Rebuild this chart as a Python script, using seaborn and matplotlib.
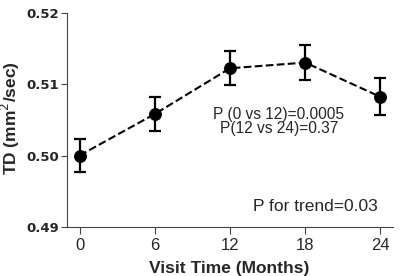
import numpy as np
import pandas as pd
import matplotlib
matplotlib.use("Agg")
import matplotlib.pyplot as plt
import seaborn as sns

# values
months = [0, 6, 12, 18, 24]
td_mean = [0.5000, 0.5058, 0.5122, 0.5130, 0.5082]
td_err = [0.0023, 0.0024, 0.0024, 0.0025, 0.0026]
y_ticks = [0.49, 0.50, 0.51, 0.52]
x_ticks = [0, 6, 12, 18, 24]

sns.set_style("ticks")
plt.rcParams['font.family'] = ['Liberation Sans', 'DejaVu Sans']

df = pd.DataFrame({"month": months, "td": td_mean, "err": td_err})

fig = plt.figure(figsize=(4.0, 2.76), dpi=100)
ax = fig.add_axes([0.1675, 0.1775, 0.815, 0.7772])

# error bars first, then the dashed line with markers on top
ax.errorbar(df["month"], df["td"], yerr=df["err"], fmt="none",
            ecolor="black", elinewidth=1.6, capsize=4.5, capthick=1.6, zorder=2)
sns.lineplot(data=df, x="month", y="td", ax=ax, color="black",
             linestyle="--", linewidth=1.5, marker="o", markersize=8.5,
             markeredgecolor="black", zorder=3)

ax.set_xlim(-1, 25)
ax.set_ylim(0.49, 0.52)
ax.set_xticks(x_ticks)
ax.set_yticks(y_ticks)
ax.set_yticklabels([f"{v:.2f}" for v in y_ticks], fontweight="bold",
                   fontsize=9.5, family="DejaVu Sans")
ax.set_xticklabels([str(v) for v in x_ticks], fontsize=12)
ax.tick_params(axis="y", length=4, width=0.8, color="#444444", pad=1.5)
ax.tick_params(axis="x", length=5, width=0.8, color="#444444", pad=3)
for side in ["left", "bottom"]:
    ax.spines[side].set_linewidth(0.8)
    ax.spines[side].set_color("#444444")
sns.despine(ax=ax)

ax.set_xlabel("Visit Time (Months)", fontweight="bold", fontsize=12.5)
ax.set_ylabel("TD (mm$^2$/sec)", fontweight="bold", fontsize=12.5)
ax.xaxis.set_label_coords(0.497, -0.158)
ax.xaxis.label.set_va("top")
ax.yaxis.set_label_coords(-0.138, 0.51)

ax.text(15.9, 0.5051, "P (0 vs 12)=0.0005", ha="center", va="baseline", fontsize=11.2)
ax.text(15.9, 0.5031, "P(12 vs 24)=0.37", ha="center", va="baseline", fontsize=11.2)
ax.text(23.75, 0.4928, "P for trend=0.03", ha="right", va="center", fontsize=12.5)

fig.savefig("out.png", dpi=100)
